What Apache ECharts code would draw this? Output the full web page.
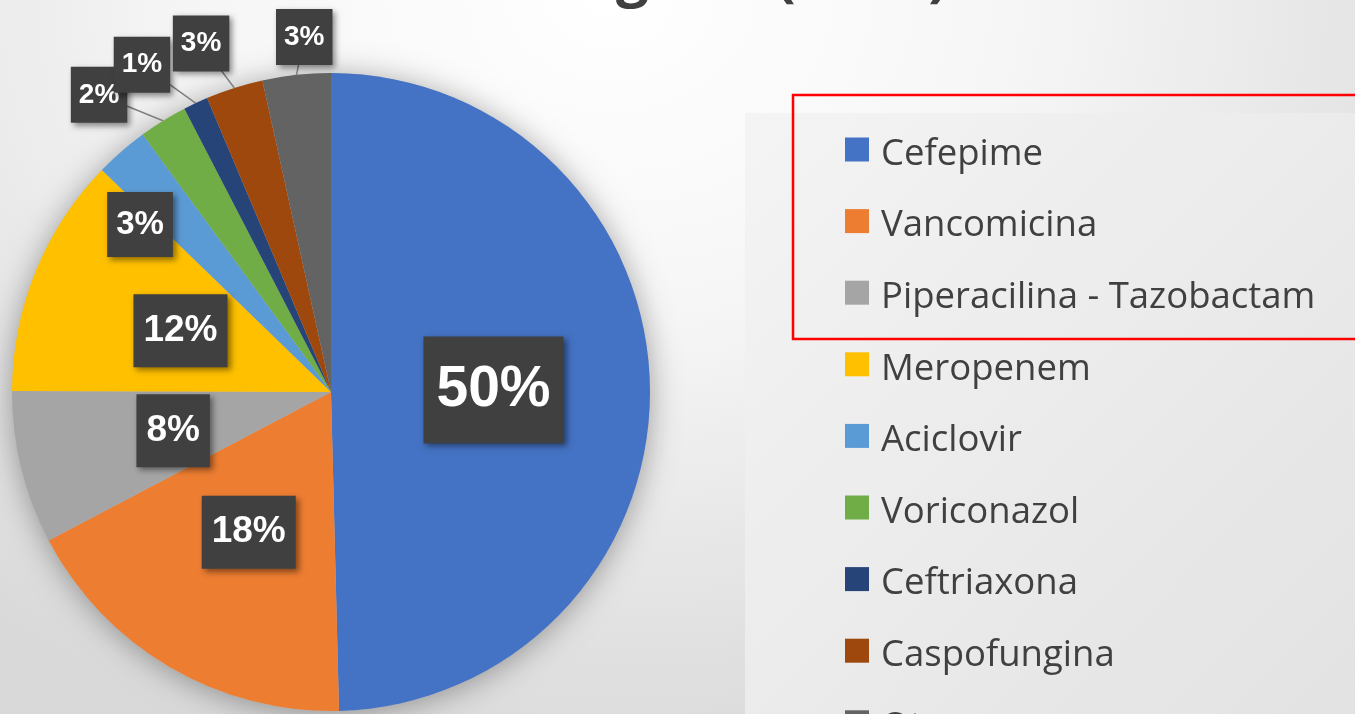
<!DOCTYPE html>
<html>
<head>
<meta charset="utf-8">
<script src="https://cdn.jsdelivr.net/npm/echarts@6/dist/echarts.min.js"></script>
<style>
  html, body { margin: 0; padding: 0; }
  body {
    width: 1355px; height: 714px; overflow: hidden;
    background: radial-gradient(ellipse 75% 110% at 45% 0%, #ffffff 0%, #f6f6f6 40%, #e2e2e2 80%, #d9d9d9 100%);
  }
  #chart { width: 1355px; height: 714px; }
</style>
</head>
<body>
<div id="chart"></div>
<script>
// ---------- data ----------
const categories = ['Cefepime', 'Vancomicina', 'Piperacilina - Tazobactam', 'Meropenem',
  'Aciclovir', 'Voriconazol', 'Ceftriaxona', 'Caspofungina', 'Otros'];
const shares = [49.6, 17.7, 7.75, 12.2, 2.7, 2.45, 1.25, 2.9, 3.45];
const pctLabels = ['50%', '18%', '8%', '12%', '3%', '2%', '1%', '3%', '3%'];
const titleText = 'Antimicrobianos en niños oncológicos (2019)';

// ---------- styles / layout constants ----------
const colors = ['#4472C4', '#ED7D31', '#A5A5A5', '#FFC000', '#5B9BD5', '#70AD47', '#264478', '#9E480E', '#636363'];
const labelSize = [57, 37, 37, 37, 33, 28, 28, 28, 28];
const labelPlace = ['inside', 'inside', 'inside', 'inside', 'inside', 'outside', 'outside', 'outside', 'outside'];
const labelMove = [null, null, null, null,
  { r: 254, da: -7.7 }, { r: 377, da: -6.2 }, { r: 378, da: -4.9 }, { r: 372, da: -2.8 }, { r: 356, da: 1.9 }];
const CX = 331, CY = 392, R = 319;
// square marker sitting in the upper part of a taller icon box
const legendIcon = 'path://M0,0L24,0L24,24L0,24Z M0,34';

const chart = echarts.init(document.getElementById('chart'), null, { renderer: 'canvas' });

const pieData = categories.map((name, i) => ({
  name: name,
  value: shares[i],
  itemStyle: { color: colors[i] },
  label: {
    position: labelPlace[i],
    fontSize: labelSize[i],
    lineHeight: labelSize[i],
    padding: [Math.round(4 + labelSize[i] * 0.37), Math.round(4 + labelSize[i] * 0.15)]
  },
  labelLine: {
    show: labelPlace[i] === 'outside',
    length: 20, length2: 0,
    lineStyle: { color: '#7f7f7f', width: 1.5 }
  }
}));

const option = {
  animation: false,
  graphic: [
    {
      type: 'rect', z: 0, silent: true,
      shape: { x: 745, y: 113, width: 620, height: 610 },
      style: {
        fill: new echarts.graphic.LinearGradient(0, 0, 1, 1, [
          { offset: 0, color: '#f4f4f4' },
          { offset: 1, color: '#e2e2e2' }
        ])
      }
    },
    {
      type: 'rect', z: 10, silent: true,
      shape: { x: 793, y: 95, width: 620, height: 244 },
      style: { fill: 'none', stroke: '#ff0000', lineWidth: 2.5 }
    },
    {
      type: 'text', z: 10, silent: true,
      x: 948, y: -22,
      style: {
        text: titleText,
        align: 'right', verticalAlign: 'middle',
        fontFamily: 'Open Sans', fontWeight: 'bold', fontSize: 58, lineHeight: 58,
        fill: '#404040'
      }
    }
  ],
  legend: {
    orient: 'vertical',
    left: 845, top: 136,
    height: 1200,
    padding: 0,
    itemWidth: 24, itemHeight: 34,
    itemGap: 34.6,
    icon: legendIcon,
    selectedMode: false,
    data: categories,
    textStyle: {
      fontFamily: 'Open Sans', fontSize: 36.5, lineHeight: 36,
      color: '#404040', padding: [0, 0, 0, 7]
    }
  },
  series: [
    {
      type: 'pie', z: 1, silent: true,
      center: [CX, CY], radius: R,
      label: { show: false }, labelLine: { show: false },
      itemStyle: { color: '#bdbdbd', shadowBlur: 30, shadowColor: 'rgba(0,0,0,0.35)', shadowOffsetY: 3 },
      data: [{ value: 1, name: '__shadow' }]
    },
    {
      type: 'pie', z: 2,
      center: [CX, CY], radius: R,
      startAngle: 90, clockwise: true,
      avoidLabelOverlap: false,
      silent: true,
      label: {
        show: true,
        formatter: (p) => pctLabels[p.dataIndex],
        color: '#ffffff',
        fontFamily: 'Liberation Sans, Arial, sans-serif',
        fontWeight: 'bold',
        backgroundColor: '#404040',
        shadowColor: 'rgba(0,0,0,0.45)',
        shadowBlur: 6, shadowOffsetX: 3, shadowOffsetY: 3
      },
      labelLayout: function (params) {
        const mv = labelMove[params.dataIndex];
        if (!mv) return {};
        let ax, ay;
        const pts = params.labelLinePoints;
        if (pts && pts.length) {
          ax = pts[0][0]; ay = pts[0][1];
        } else {
          ax = params.labelRect.x + params.labelRect.width / 2;
          ay = params.labelRect.y + params.labelRect.height / 2;
        }
        const a = Math.atan2(ax - CX, -(ay - CY)) + mv.da * Math.PI / 180;
        const x = CX + mv.r * Math.sin(a);
        const y = CY - mv.r * Math.cos(a);
        const out = { x: x, y: y, align: 'center', verticalAlign: 'middle' };
        if (pts && pts.length) {
          out.labelLinePoints = [pts[0], [x, y], [x, y]];
        }
        return out;
      },
      data: pieData
    }
  ]
};
chart.setOption(option);
</script>
</body>
</html>
